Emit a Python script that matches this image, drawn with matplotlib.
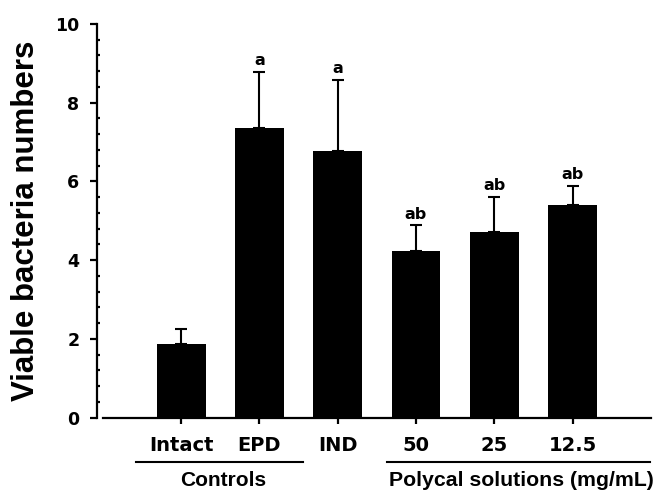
import matplotlib
matplotlib.use("Agg")
import matplotlib.pyplot as plt
from matplotlib.ticker import MultipleLocator
from matplotlib.lines import Line2D

# Data
categories = ["Intact", "EPD", "IND", "50", "25", "12.5"]
means = [1.86, 7.37, 6.77, 4.24, 4.71, 5.40]
errors = [0.38, 1.40, 1.81, 0.64, 0.90, 0.48]
letters = ["", "a", "a", "ab", "ab", "ab"]
yticks = [0, 2, 4, 6, 8, 10]

plt.rcParams["font.family"] = ["Liberation Sans", "DejaVu Sans"]
plt.rcParams["font.weight"] = "bold"
wide = ["DejaVu Sans", "Liberation Sans"]

fig = plt.figure(figsize=(6.56, 4.92), dpi=100)
ax = fig.add_axes([0.157, 0.1514, 0.835, 0.7998])

# Offset the y spine before styling ticks (repositioning resets them)
for s in ["top", "right"]:
    ax.spines[s].set_visible(False)
ax.spines["left"].set_position(("outward", 4.5))
ax.spines["left"].set_linewidth(1.6)
ax.spines["bottom"].set_linewidth(1.6)

x = list(range(len(categories)))
ax.bar(x, means, width=0.62, color="black", zorder=2)
ax.errorbar(x, means, yerr=[[0] * len(errors), errors], fmt="none",
            ecolor="black", elinewidth=1.5, capsize=4.3, capthick=1.5, zorder=1)

for xi, m, e, t in zip(x, means, errors, letters):
    if t:
        ax.annotate(t, (xi, m + e), xytext=(0, 5), textcoords="offset points",
                    ha="center", va="baseline", fontsize=11.5,
                    fontweight="bold", family=wide)

ax.set_xlim(-1, 6)
ax.set_ylim(0, 10)
ax.set_xticks(x)
ax.set_xticklabels(categories, family=wide, fontsize=14, fontweight="bold")
ax.set_yticks(yticks)
ax.set_yticklabels([str(v) for v in yticks], family=wide, fontsize=12.5,
                   fontweight="bold")
ax.yaxis.set_minor_locator(MultipleLocator(0.4))

ax.tick_params(axis="y", which="major", direction="out", length=5, width=1.6,
               pad=7.5)
ax.tick_params(axis="y", which="minor", direction="in", length=2.5, width=1.6)
ax.tick_params(axis="x", which="major", direction="out", length=4, width=1.6,
               pad=9)

fig.text(26 / 656, 1 - 221 / 492, "Viable bacteria numbers", rotation=90,
         ha="center", va="center", fontsize=22.5, fontweight="bold")

# Group brackets under the tick labels
ly = 1 - 462 / 492
fig.add_artist(Line2D([136 / 656, 303 / 656], [ly, ly], color="black", lw=1.5))
fig.add_artist(Line2D([387 / 656, 650 / 656], [ly, ly], color="black", lw=1.5))
fig.text(223 / 656, 1 - 480 / 492, "Controls", ha="center", va="center",
         fontsize=15, fontweight="bold")
fig.text(521 / 656, 1 - 480 / 492, "Polycal solutions (mg/mL)", ha="center",
         va="center", fontsize=15.3, fontweight="bold")

fig.savefig("out.png", dpi=100)
